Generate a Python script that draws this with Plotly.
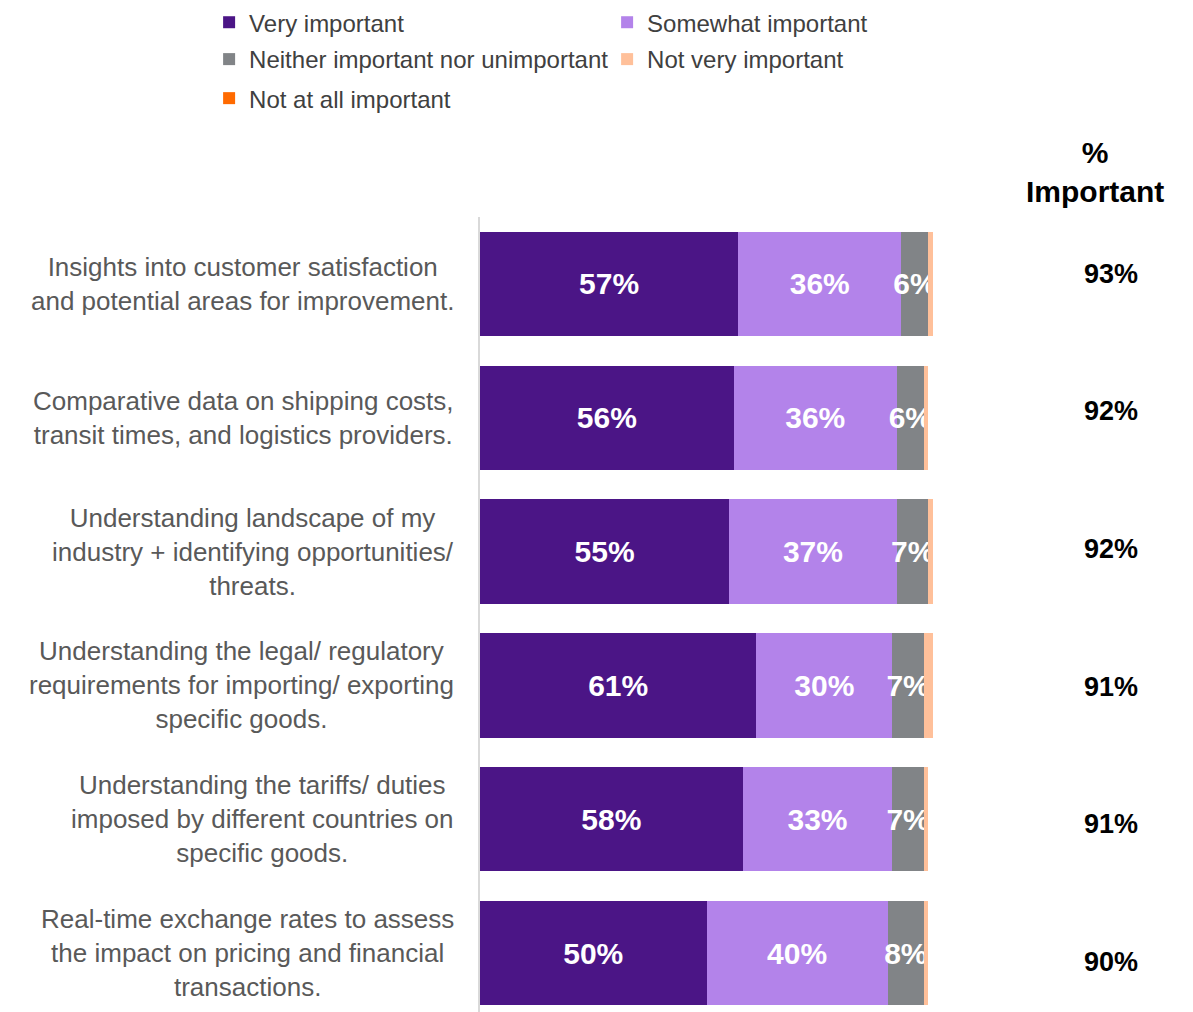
import plotly.graph_objects as go

# Survey items, top to bottom
categories = [
    "Insights into customer satisfaction<br>and potential areas for improvement.",
    "Comparative data on shipping costs,<br>transit times, and logistics providers.",
    "Understanding landscape of my<br>industry + identifying opportunities/<br>threats.",
    "Understanding the legal/ regulatory<br>requirements for importing/ exporting<br>specific goods.",
    "Understanding the tariffs/ duties<br>imposed by different countries on<br>specific goods.",
    "Real-time exchange rates to assess<br>the impact on pricing and financial<br>transactions.",
]

very_important = [57, 56, 55, 61, 58, 50]
somewhat_important = [36, 36, 37, 30, 33, 40]
neither = [6, 6, 7, 7, 7, 8]
not_very_important = [1, 1, 1, 2, 1, 1]
not_at_all_important = [0, 0, 0, 0, 0, 0]

series = [
    ("Very important", very_important, "#4B1586", True, "legend"),
    ("Somewhat important", somewhat_important, "#B383EA", True, "legend"),
    ("Neither important nor unimportant", neither, "#818487", True, "legend2"),
    ("Not very important", not_very_important, "#FFC09A", False, "legend2"),
    ("Not at all important", not_at_all_important, "#FF6A00", False, "legend3"),
]

# "% Important" = very + somewhat important
pct_important = [v + s for v, s in zip(very_important, somewhat_important)]

FONT = "Liberation Sans, Arial, sans-serif"

fig = go.Figure()
for name, vals, color, labelled, leg in series:
    fig.add_trace(go.Bar(
        name=name,
        y=categories,
        x=vals,
        orientation="h",
        marker=dict(color=color, line=dict(width=0)),
        text=[f"{v}%" for v in vals] if labelled else None,
        textposition="inside" if labelled else "none",
        insidetextanchor="middle",
        textangle=0,
        constraintext="none",
        textfont=dict(family=FONT, size=30, color="white", weight="bold"),
        legend=leg,
        hoverinfo="skip",
    ))

legend_common = dict(
    orientation="h",
    xanchor="left",
    yanchor="middle",
    x=-0.598,
    entrywidth=353,
    entrywidthmode="pixels",
    font=dict(family=FONT, size=24, color="#404040"),
    bgcolor="rgba(0,0,0,0)",
    itemclick=False,
    itemdoubleclick=False,
    traceorder="normal",
)

annotations = []
# Row labels, centred text blocks right-aligned against the axis
for i, cat in enumerate(categories):
    annotations.append(dict(
        x=0, xref="paper", xanchor="right", xshift=-24,
        y=i, yref="y", yanchor="middle",
        text=cat, align="center", showarrow=False,
        font=dict(family=FONT, size=26, color="#595959"),
    ))

# "% Important" column
for i, p in enumerate(pct_important):
    annotations.append(dict(
        x=1.393, xref="paper", xanchor="center",
        y=-0.076 + i * 1.0284, yref="y", yanchor="middle",
        text=f"<b>{p}%</b>", showarrow=False,
        font=dict(family=FONT, size=27, color="black"),
    ))

annotations.append(dict(
    x=1.358, xref="paper", xanchor="center",
    y=1.057, yref="paper", yanchor="middle",
    text="<b>%<br>Important</b>", align="center", showarrow=False,
    font=dict(family=FONT, size=30, color="black"),
))

fig.update_layout(
    width=1193,
    height=1012,
    margin=dict(l=480, r=260, t=217, b=0),
    barmode="stack",
    bargap=0.22,
    paper_bgcolor="white",
    plot_bgcolor="white",
    showlegend=True,
    legend=dict(legend_common, y=1.2728, yanchor="top"),
    legend2=dict(legend_common, y=1.1981),
    legend3=dict(legend_common, y=1.1490),
    xaxis=dict(range=[0, 100], showgrid=False, zeroline=False,
               showticklabels=False, showline=False, fixedrange=True),
    yaxis=dict(type="category", categoryorder="array", categoryarray=categories,
               range=[5.44, -0.5], showgrid=False, zeroline=False,
               showticklabels=False, ticks="", showline=True,
               linecolor="#D9D9D9", linewidth=2, fixedrange=True),
    annotations=annotations,
)

fig.write_html("out.html")
